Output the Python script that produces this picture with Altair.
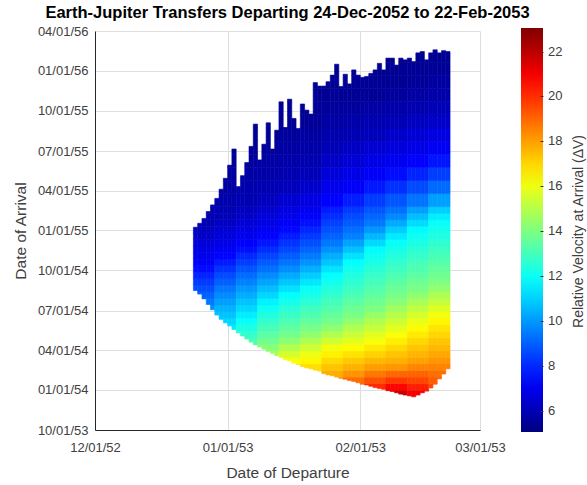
import altair as alt
import pandas as pd

# Departure dates: one column per day starting 24-Dec-2052
DEP_START = "2052-12-24"
N_DEP = 60
DEP_GROUP = 5  # departure days per column of the dV table

# Arrival window for each departure day (days after 2053-10-01)
arrival_top_day = [464, 473, 484, 500, 515, 530, 551, 576, 606, 643,
                   557, 582, 612, 649, 700, 618, 654, 703, 643, 686,
                   751, 692, 757, 713, 690, 746, 732, 723, 795, 787,
                   787, 797, 812, 837, 786, 814, 792, 824, 812, 807,
                   809, 816, 824, 839, 824, 851, 851, 835, 851, 847,
                   851, 843, 863, 866, 847, 863, 870, 863, 868, 866]
arrival_bottom_day = [319, 311, 300, 287, 275, 263, 253, 245, 238, 230,
                      222, 215, 208, 201, 195, 190, 185, 180, 175, 170,
                      166, 161, 158, 153, 150, 145, 142, 140, 137, 135,
                      129, 126, 124, 121, 118, 116, 113, 111, 108, 105,
                      103, 100, 97, 95, 93, 90, 88, 85, 82, 80,
                      78, 76, 80, 85, 89, 96, 105, 117, 128, 140]

# Arrival bands of the dV table (days after 2053-10-01):
# 15-day bands from 2053-12-01, then 30-day bands from 2055-02-24
ARR_BASE = "2053-10-01"
arrival_band_edges = [61 + 15 * k for k in range(31)] + [511 + 30 * k for k in range(1, 13)]

# Relative velocity at arrival; one row per arrival band (bottom to top),
# one value per 5-day departure group (12 groups)
dv_grid = [
    [15.5, 15.9, 16.8, 18.2, 19.3, 19.0, 20.4, 21.0, 21.7, 22.5, 21.8, 20.5],
    [15.1, 15.5, 16.4, 17.7, 18.8, 18.6, 19.6, 20.4, 20.9, 21.75, 21.0, 19.7],
    [14.7, 15.1, 16.0, 17.2, 18.3, 18.2, 18.8, 19.65, 20.1, 20.75, 20.25, 19.55],
    [14.3, 14.7, 15.6, 16.7, 17.8, 17.7, 18.3, 18.9, 19.4, 19.8, 19.6, 19.2],
    [13.9, 14.3, 15.2, 16.2, 17.3, 17.3, 17.75, 18.2, 18.7, 19.0, 19.05, 18.85],
    [13.5, 13.9, 14.8, 15.7, 16.8, 16.9, 17.35, 17.7, 18.05, 18.15, 18.45, 18.5],
    [13.1, 13.5, 14.4, 15.3, 16.2, 16.45, 16.95, 17.25, 17.55, 17.7, 17.95, 18.15],
    [12.7, 13.0, 14.0, 14.7, 15.55, 16.0, 16.55, 16.8, 17.1, 17.35, 17.6, 17.85],
    [12.3, 12.6, 13.55, 14.2, 14.95, 15.45, 16.1, 16.35, 16.65, 16.95, 17.3, 17.55],
    [11.9, 12.2, 13.15, 13.8, 14.3, 14.9, 15.5, 15.85, 16.2, 16.6, 17.0, 17.3],
    [11.5, 11.8, 12.7, 13.4, 13.8, 14.35, 14.9, 15.35, 15.75, 16.2, 16.65, 17.0],
    [11.0, 11.45, 12.3, 13.05, 13.5, 13.9, 14.3, 14.9, 15.3, 15.8, 16.35, 16.75],
    [10.6, 11.1, 11.9, 12.7, 13.15, 13.55, 13.85, 14.4, 14.9, 15.4, 15.95, 16.45],
    [10.2, 10.75, 11.5, 12.35, 12.8, 13.2, 13.55, 13.95, 14.45, 15.0, 15.55, 16.1],
    [9.8, 10.45, 11.1, 12.0, 12.5, 12.9, 13.25, 13.7, 14.0, 14.6, 15.15, 15.7],
    [9.4, 10.1, 10.75, 11.6, 12.15, 12.55, 13.0, 13.4, 13.75, 14.2, 14.75, 15.25],
    [9.05, 9.75, 10.35, 11.1, 11.8, 12.2, 12.7, 13.15, 13.5, 13.9, 14.3, 14.85],
    [8.65, 9.4, 10.0, 10.65, 11.3, 11.9, 12.4, 12.85, 13.25, 13.65, 13.95, 14.4],
    [8.3, 9.0, 9.6, 10.2, 10.8, 11.4, 12.1, 12.6, 13.0, 13.4, 13.7, 14.0],
    [7.9, 8.6, 9.2, 9.75, 10.3, 10.9, 11.8, 12.35, 12.75, 13.15, 13.45, 13.75],
    [7.5, 8.2, 8.8, 9.3, 9.8, 10.4, 11.35, 12.1, 12.5, 12.9, 13.2, 13.55],
    [7.2, 7.75, 8.4, 8.9, 9.35, 9.9, 10.8, 11.8, 12.25, 12.65, 13.0, 13.3],
    [7.0, 7.35, 8.0, 8.5, 8.95, 9.45, 10.35, 11.3, 12.0, 12.4, 12.75, 13.05],
    [6.8, 7.1, 7.55, 8.05, 8.55, 9.05, 9.85, 10.7, 11.75, 12.15, 12.5, 12.85],
    [6.6, 6.9, 7.25, 7.65, 8.2, 8.7, 9.4, 10.15, 11.15, 11.9, 12.25, 12.6],
    [6.35, 6.7, 7.0, 7.3, 7.8, 8.3, 9.05, 9.6, 10.55, 11.45, 12.05, 12.35],
    [6.15, 6.5, 6.8, 7.05, 7.4, 7.95, 8.75, 9.25, 9.95, 10.9, 11.75, 12.15],
    [5.95, 6.25, 6.6, 6.85, 7.15, 7.6, 8.45, 8.9, 9.4, 10.3, 11.2, 11.9],
    [5.9, 6.05, 6.35, 6.65, 6.95, 7.25, 8.1, 8.6, 9.1, 9.7, 10.65, 11.5],
    [5.8, 5.95, 6.15, 6.45, 6.8, 7.05, 7.8, 8.3, 8.8, 9.3, 10.1, 10.95],
    [5.65, 5.85, 5.95, 6.15, 6.5, 6.8, 7.3, 7.8, 8.35, 8.8, 9.35, 10.1],
    [5.5, 5.7, 5.85, 5.95, 6.1, 6.4, 6.95, 7.2, 7.7, 8.15, 8.6, 9.15],
    [5.45, 5.6, 5.7, 5.8, 5.9, 6.05, 6.65, 6.9, 7.2, 7.5, 7.9, 8.4],
    [5.4, 5.45, 5.6, 5.7, 5.8, 5.9, 6.3, 6.55, 6.85, 7.05, 7.25, 7.65],
    [5.35, 5.4, 5.5, 5.55, 5.65, 5.75, 6.0, 6.25, 6.5, 6.7, 6.9, 7.1],
    [5.3, 5.35, 5.4, 5.45, 5.55, 5.65, 5.85, 5.95, 6.1, 6.35, 6.55, 6.75],
    [5.3, 5.3, 5.35, 5.4, 5.45, 5.5, 5.7, 5.8, 5.9, 6.0, 6.2, 6.35],
    [5.3, 5.3, 5.3, 5.35, 5.4, 5.45, 5.55, 5.6, 5.7, 5.8, 5.9, 6.0],
    [5.3, 5.3, 5.3, 5.3, 5.3, 5.4, 5.45, 5.45, 5.5, 5.6, 5.7, 5.8],
    [5.3, 5.3, 5.3, 5.3, 5.3, 5.3, 5.4, 5.4, 5.45, 5.45, 5.5, 5.65],
    [5.3, 5.3, 5.3, 5.3, 5.3, 5.3, 5.3, 5.35, 5.35, 5.4, 5.45, 5.5],
    [5.3, 5.3, 5.3, 5.3, 5.3, 5.3, 5.3, 5.3, 5.3, 5.3, 5.4, 5.4],
]

# Axis ticks
dep_ticks = ["2052-12-01", "2053-01-01", "2053-02-01", "2053-03-01"]
arr_ticks = ["2053-10-01", "2054-01-01", "2054-04-01", "2054-07-01", "2054-10-01",
             "2055-01-01", "2055-04-01", "2055-07-01", "2055-10-01", "2056-01-01",
             "2056-04-01"]
cbar_ticks = [6, 8, 10, 12, 14, 16, 18, 20, 22]

# jet colormap stops over the colour range
cbar_domain = [5.05, 7.3, 11.8, 16.3, 20.8, 23.05]
jet_colors = ["#000080", "#0000ff", "#00ffff", "#ffff00", "#ff0000", "#800000"]
# colour-bar values seen at the bottom and top of the plot frame
cbar_frame_range = [5.139, 22.916]


def iso(ts):
    return ts.strftime("%Y-%m-%dT%H:%M:%SZ")


def dt(s):
    t = pd.Timestamp(s)
    return alt.DateTime(year=t.year, month=t.month, date=t.day, utc=True)


base = pd.Timestamp(ARR_BASE)
dep0 = pd.Timestamp(DEP_START)
cells = []
for i in range(N_DEP):
    lo, hi = arrival_bottom_day[i], arrival_top_day[i]
    g = i // DEP_GROUP
    for r in range(len(arrival_band_edges) - 1):
        a = max(arrival_band_edges[r], lo)
        b = min(arrival_band_edges[r + 1], hi)
        if a < b:
            cells.append({
                "dep": iso(dep0 + pd.Timedelta(days=i)),
                "dep2": iso(dep0 + pd.Timedelta(days=i + 1)),
                "arr": iso(base + pd.Timedelta(days=a)),
                "arr2": iso(base + pd.Timedelta(days=b)),
                "dv": dv_grid[r][g],
            })
df = pd.DataFrame(cells)

FONT = "Liberation Sans"
TXT = "#404040"
DATE_LABEL = "utcFormat(datum.value, '%m/%d/%y')"

color_scale = alt.Scale(domain=cbar_domain, range=jet_colors, interpolate="rgb")

# cell outlines take the cell's own colour so neighbouring cells join without seams
heat = alt.Chart(df).mark_rect(
    stroke=alt.expr("scale('color', datum.dv)"), strokeWidth=0.6
).encode(
    x=alt.X("dep:T",
            scale=alt.Scale(type="utc", domain=[dt(dep_ticks[0]), dt(dep_ticks[-1])]),
            axis=alt.Axis(values=[dt(s) for s in dep_ticks], labelExpr=DATE_LABEL,
                          title="Date of Departure",
                          ticks=False, labelPadding=11, labelFlush=False,
                          titleY=47, titleBaseline="alphabetic")),
    x2="dep2:T",
    y=alt.Y("arr:T",
            scale=alt.Scale(type="utc", domain=[dt(arr_ticks[0]), dt(arr_ticks[-1])]),
            axis=alt.Axis(values=[dt(s) for s in arr_ticks], labelExpr=DATE_LABEL,
                          title="Date of Arrival",
                          ticks=False, labelPadding=7, labelFlush=False,
                          titleX=-70, titleY=199.5, titleBaseline="alphabetic")),
    y2="arr2:T",
    color=alt.Color("dv:Q", scale=color_scale,
                    legend=alt.Legend(
                        type="gradient", orient="none", legendX=426, legendY=-3,
                        direction="vertical", gradientLength=404,
                        gradientThickness=22, values=cbar_ticks,
                        gradientStrokeWidth=0,
                        labelFont=FONT, labelFontSize=13, labelColor=TXT,
                        labelOffset=5, title=None)),
)

# right-hand axis: colour bar tick marks and caption
cbar_caption = alt.Chart(df).mark_point(opacity=0).encode(
    y=alt.Y("dv:Q",
            scale=alt.Scale(domain=cbar_frame_range, nice=False, zero=False),
            axis=alt.Axis(orient="right", offset=60, values=cbar_ticks,
                          title="Relative Velocity at Arrival (ΔV)",
                          labels=False, ticks=True, tickSize=3, tickColor="#333",
                          tickWidth=1, domain=False, grid=False, zindex=1,
                          titleAngle=270, titleX=42, titleY=200,
                          titleAlign="center", titleBaseline="alphabetic",
                          titleFontSize=14)),
)

chart = alt.layer(heat, cbar_caption).resolve_scale(
    y="independent"
).properties(
    width=385,
    height=399,
    title=alt.TitleParams("Earth-Jupiter Transfers Departing 24-Dec-2052 to 22-Feb-2053",
                          font=FONT, fontSize=16.5, fontWeight="bold", color="#000",
                          anchor="middle", frame="group", offset=4),
    autosize=alt.AutoSizeParams(type="none"),
    padding={"left": 95, "top": 31, "right": 107, "bottom": 55},
).configure_view(
    stroke=None
).configure_axis(
    labelFont=FONT, labelFontSize=13, labelColor=TXT,
    titleFont=FONT, titleFontSize=15.5, titleFontWeight="normal", titleColor=TXT,
    gridColor="#dedede", gridWidth=1,
    domainColor="#262626", domainWidth=1,
)

chart.save("out.html", embed_options={"renderer": "svg", "actions": False})
